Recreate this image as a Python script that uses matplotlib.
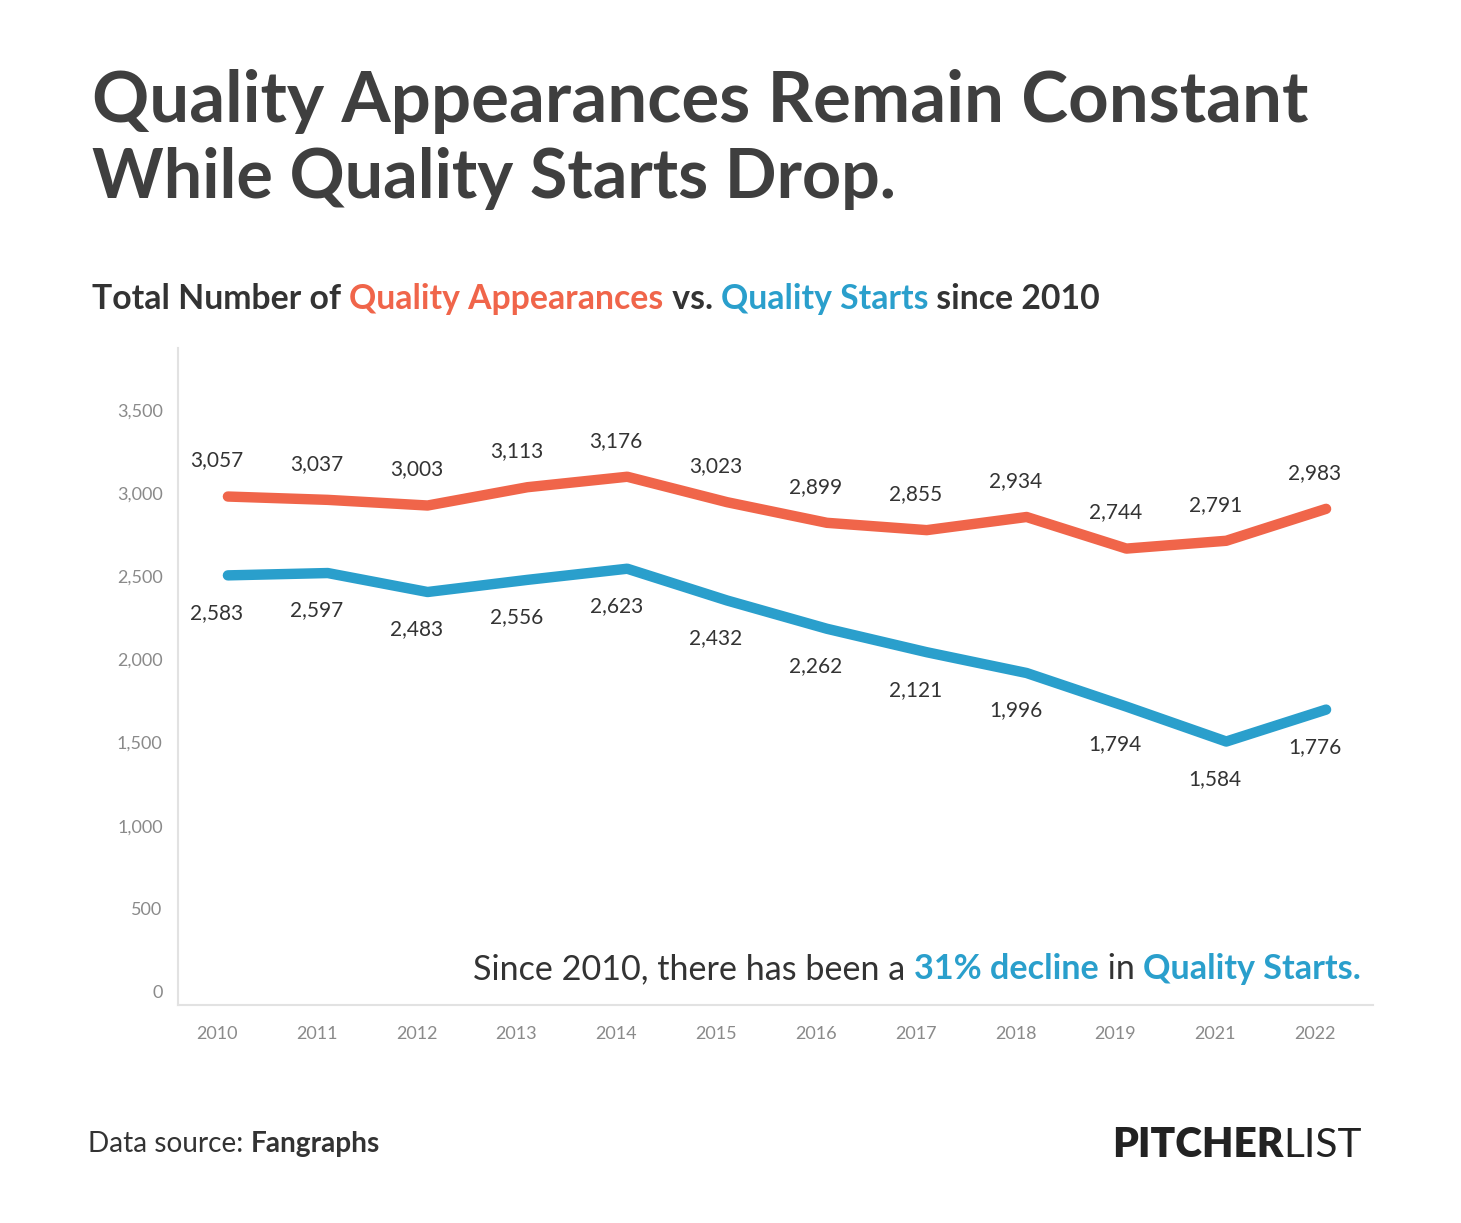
import matplotlib.pyplot as plt
from matplotlib.transforms import ScaledTranslation

plt.rcParams['font.family'] = ['Lato', 'DejaVu Sans']

years = ['2010', '2011', '2012', '2013', '2014', '2015', '2016', '2017', '2018', '2019', '2021', '2022']
quality_appearances = [3057, 3037, 3003, 3113, 3176, 3023, 2899, 2855, 2934, 2744, 2791, 2983]
quality_starts = [2583, 2597, 2483, 2556, 2623, 2432, 2262, 2121, 1996, 1794, 1584, 1776]
y_ticks = [0, 500, 1000, 1500, 2000, 2500, 3000, 3500]

RED = '#F0654A'
BLUE = '#2A9FCC'
DARK = '#3f3f3f'
GREY = '#8a8a8a'

W, H = 1461, 1223
fig = plt.figure(figsize=(W / 100, H / 100), dpi=100)
fig.patch.set_facecolor('white')
ax = fig.add_axes([178 / W, 1 - 1005 / H, (1373 - 178) / W, (1005 - 348) / H])

x = list(range(len(years)))
ax.plot(x, quality_appearances, color=RED, lw=7.5, solid_capstyle='round', solid_joinstyle='round')
ax.plot(x, quality_starts, color=BLUE, lw=7.5, solid_capstyle='round', solid_joinstyle='round')

for i in x:
    ax.annotate(f'{quality_appearances[i]:,}', (i, quality_appearances[i]), xytext=(-8, 26),
                textcoords='offset points', ha='center', va='center', fontsize=15, color='#333333')
    ax.annotate(f'{quality_starts[i]:,}', (i, quality_starts[i]), xytext=(-8, -27),
                textcoords='offset points', ha='center', va='center', fontsize=15, color='#333333')

ax.set_xlim(-0.5, 11.47)
ax.set_ylim(0, 3950)
ax.set_xticks(x, years)
ax.set_yticks(y_ticks, [f'{v:,}' for v in y_ticks])
ax.tick_params(length=0, labelsize=13, labelcolor=GREY)
ax.tick_params(axis='x', pad=15)
ax.tick_params(axis='y', pad=11)
for lab in ax.get_xticklabels():
    lab.set_transform(lab.get_transform() + ScaledTranslation(-0.11, 0, fig.dpi_scale_trans))
for lab in ax.get_yticklabels():
    lab.set_transform(lab.get_transform() + ScaledTranslation(0, 0.13, fig.dpi_scale_trans))
for s in ['top', 'right']:
    ax.spines[s].set_visible(False)
for s in ['left', 'bottom']:
    ax.spines[s].set_color('#e2e2e2')
    ax.spines[s].set_linewidth(1.5)


def rich_text(parts, x_px, y_px, size, width_px, align='left'):
    # parts: (text, colour, weight), chained left to right on one baseline
    if align == 'right':
        x_px = x_px - width_px
    texts = []
    prev = None
    for s, c, w in parts:
        if prev is None:
            t = ax.annotate(s, xy=(x_px / W, 1 - y_px / H), xycoords='figure fraction',
                            va='baseline', ha='left', fontsize=size, color=c, fontweight=w,
                            annotation_clip=False)
        else:
            t = ax.annotate(s, xy=(1, 0), xycoords=prev, va='bottom', ha='left',
                            fontsize=size, color=c, fontweight=w, annotation_clip=False)
        texts.append(t)
        prev = t
    r = fig.canvas.get_renderer()
    total = sum(t.get_window_extent(r).width for t in texts)
    new_size = size * width_px / total
    for t in texts:
        t.set_fontsize(new_size)
    return new_size


title_size = rich_text([('Quality Appearances Remain Constant', DARK, 'bold')], 92, 122, 46, 1215)
rich_text([('While Quality Starts Drop.', DARK, 'bold')], 92, 198, title_size, 806)

rich_text([('Total Number of ', '#333333', 'bold'),
           ('Quality Appearances', RED, 'bold'),
           (' vs. ', '#333333', 'bold'),
           ('Quality Starts', BLUE, 'bold'),
           (' since 2010', '#333333', 'bold')], 92, 309, 24, 1010)

rich_text([('Since 2010, there has been a ', '#333333', 'normal'),
           ('31% decline', BLUE, 'bold'),
           (' in ', '#333333', 'normal'),
           ('Quality Starts.', BLUE, 'bold')], 1360, 979, 30, 887, align='right')

rich_text([('Data source: ', '#333333', 'normal'),
           ('Fangraphs', '#333333', 'bold')], 88, 1152, 20, 292)

rich_text([('PITCHER', '#222222', 'heavy'),
           ('LIST', '#222222', 'normal')], 1362, 1157, 24, 250, align='right')

fig.savefig('out.png', dpi=100, facecolor='white')
